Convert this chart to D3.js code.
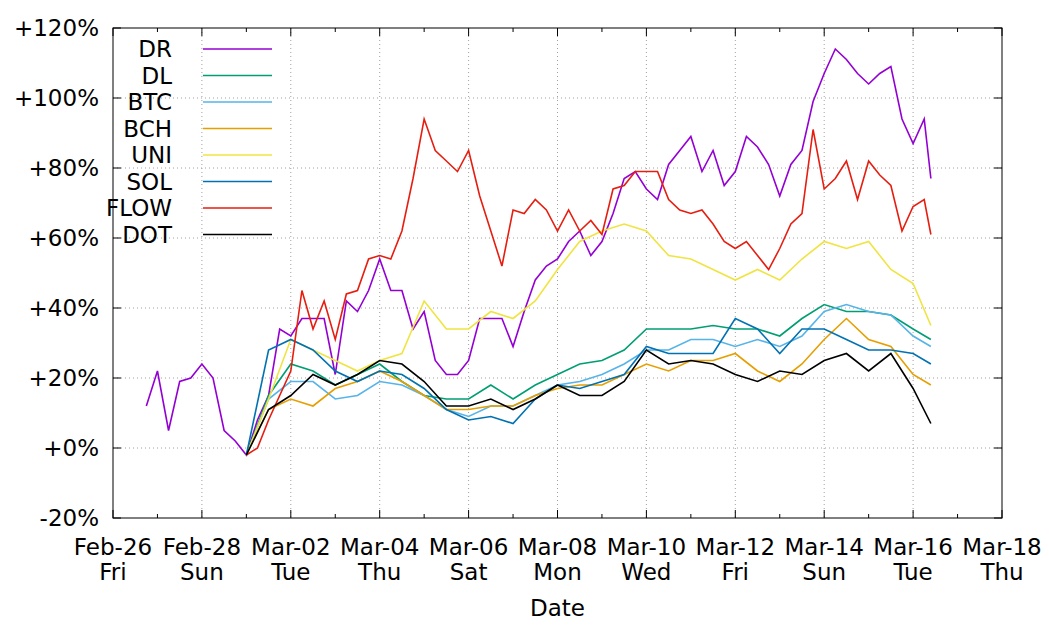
<!DOCTYPE html>
<html>
<head>
<meta charset="utf-8">
<script src="https://cdn.jsdelivr.net/npm/d3@7"></script>
<style>
body{margin:0;background:#fff}
text{font-family:"DejaVu Sans",sans-serif}
</style>
</head>
<body>
<div id="chart"></div>
<script>
// days since Feb-26 2021
var dayFine=[0.75,1,1.25,1.5,1.75,2,2.25,2.5,2.75,3,3.25,3.5,3.75,4,4.25,4.5,4.75,5,5.25,5.5,5.75,6,6.25,6.5,6.75,7,7.25,7.5,7.75,8,8.25,8.5,8.75,9,9.25,9.5,9.75,10,10.25,10.5,10.75,11,11.25,11.5,11.75,12,12.25,12.5,12.75,13,13.25,13.5,13.75,14,14.25,14.5,14.75,15,15.25,15.5,15.75,16,16.25,16.5,16.75,17,17.25,17.5,17.75,18,18.25,18.4]
var dayHalf=[3,3.5,4,4.5,5,5.5,6,6.5,7,7.5,8,8.5,9,9.5,10,10.5,11,11.5,12,12.5,13,13.5,14,14.5,15,15.5,16,16.5,17,17.5,18,18.4]
var dr=[12,22,5,19,20,24,20,5,2,-2,8,15,34,32,37,37,37,21,42,39,45,54,45,45,34,39,25,21,21,25,37,37,37,29,39,48,52,54,59,62,55,59,67,77,79,74,71,81,85,89,79,85,75,79,89,86,81,72,81,85,99,107,114,111,107,104,107,109,94,87,94,77]
var flow=[-2,0,8,15,22,45,34,42,31,44,45,54,55,54,62,77,94,85,82,79,85,72,62,52,68,67,71,68,62,68,62,65,61,74,75,79,79,79,71,68,67,68,64,59,57,59,55,51,57,64,67,91,74,77,82,71,82,78,75,62,69,71,61]
var uni=[-2,14,31,28,25,22,25,27,42,34,34,39,37,42,51,59,62,64,62,55,54,51,48,51,48,54,59,57,59,51,47,35]
var dl=[-2,15,24,22,18,21,24,19,15,14,14,18,14,18,21,24,25,28,34,34,34,35,34,34,32,37,41,39,39,38,34,31]
var btc=[-2,14,19,19,14,15,19,18,15,11,9,12,12,15,18,19,21,24,28,28,31,31,29,31,29,32,39,41,39,38,32,29]
var bch=[-2,11,14,12,17,19,22,19,15,11,11,12,12,15,17,18,18,21,24,22,25,25,27,22,19,24,31,37,31,29,21,18]
var sol=[-2,28,31,28,22,19,22,21,17,11,8,9,7,14,18,17,19,21,29,27,27,27,37,34,27,34,34,31,28,28,27,24]
var dot=[-2,11,15,21,18,21,25,24,19,12,12,14,11,14,18,15,15,19,28,24,25,24,21,19,22,21,25,27,22,27,17,7]
var names=["DR","DL","BTC","BCH","UNI","SOL","FLOW","DOT"]
var colors=["#9400d3","#009e73","#56b4e9","#e69f00","#f0e442","#0072b2","#e51e10","#000000"]
var series=[[dayFine,dr],[dayHalf,dl],[dayHalf,btc],[dayHalf,bch],[dayHalf,uni],[dayHalf,sol],[dayFine.slice(9),flow],[dayHalf,dot]]
var yTicks=[-20,0,20,40,60,80,100,120]
var xTickDays=[0,2,4,6,8,10,12,14,16,18,20]

var W=1049,H=629,fs=23
var m={top:28,right:47,bottom:111,left:113}
var cw=W-m.left-m.right, ch=H-m.top-m.bottom
var t0=new Date(2021,1,26)
var toDate=d=>new Date(t0.getTime()+d*864e5)

var svg=d3.select("#chart").append("svg").attr("width",W).attr("height",H)
var g=svg.append("g").attr("transform",`translate(${m.left},${m.top})`)

var x=d3.scaleTime().domain([toDate(0),toDate(20)]).range([0,cw])
var y=d3.scaleLinear().domain([-20,120]).range([ch,0])

// grid
g.selectAll(".gx").data(xTickDays.slice(1,-1)).enter().append("line")
  .attr("x1",d=>x(toDate(d))).attr("x2",d=>x(toDate(d))).attr("y1",0).attr("y2",ch)
  .attr("stroke","#a0a0a0").attr("stroke-dasharray","1,3")
g.selectAll(".gy").data(yTicks.slice(1,-1)).enter().append("line")
  .attr("y1",d=>y(d)).attr("y2",d=>y(d)).attr("x1",0).attr("x2",cw)
  .attr("stroke","#a0a0a0").attr("stroke-dasharray","1,3")

// ticks (inward, mirrored)
var fmtDate=d3.timeFormat("%b-%d"), fmtDay=d3.timeFormat("%a")
xTickDays.forEach(d=>{
  var px=x(toDate(d))
  g.append("line").attr("x1",px).attr("x2",px).attr("y1",ch).attr("y2",ch-8).attr("stroke","#000")
  g.append("line").attr("x1",px).attr("x2",px).attr("y1",0).attr("y2",8).attr("stroke","#000")
  g.append("text").attr("x",px).attr("y",ch+37).attr("text-anchor","middle").attr("font-size",fs).text(fmtDate(toDate(d)))
  g.append("text").attr("x",px).attr("y",ch+62).attr("text-anchor","middle").attr("font-size",fs).text(fmtDay(toDate(d)))
})
for(var d=1;d<20;d+=2){
  var px=x(toDate(d))
  g.append("line").attr("x1",px).attr("x2",px).attr("y1",ch).attr("y2",ch-4).attr("stroke","#000")
  g.append("line").attr("x1",px).attr("x2",px).attr("y1",0).attr("y2",4).attr("stroke","#000")
}
yTicks.forEach(v=>{
  g.append("line").attr("x1",0).attr("x2",8).attr("y1",y(v)).attr("y2",y(v)).attr("stroke","#000")
  g.append("line").attr("x1",cw).attr("x2",cw-8).attr("y1",y(v)).attr("y2",y(v)).attr("stroke","#000")
  g.append("text").attr("x",-14).attr("y",y(v)+8).attr("text-anchor","end").attr("font-size",fs)
    .text((v>=0?"+":"")+v+"%")
})

var line=d3.line().x(p=>x(toDate(p[0]))).y(p=>y(p[1]))
series.forEach((s,i)=>{
  var pts=s[0].map((d,j)=>[d,s[1][j]])
  g.append("path").datum(pts).attr("d",line).attr("fill","none")
    .attr("stroke",colors[i]).attr("stroke-width",1.6)
})

// legend
names.forEach((n,i)=>{
  var ly=21+i*26.5
  g.append("text").attr("x",59).attr("y",ly+8).attr("text-anchor","end").attr("font-size",fs).text(n)
  g.append("line").attr("x1",90).attr("x2",159).attr("y1",ly).attr("y2",ly).attr("stroke",colors[i]).attr("stroke-width",1.6)
})

g.append("rect").attr("width",cw).attr("height",ch).attr("fill","none").attr("stroke","#000")
svg.append("text").attr("x",m.left+cw/2).attr("y",616).attr("text-anchor","middle").attr("font-size",fs).text("Date")
</script>
</body>
</html>
